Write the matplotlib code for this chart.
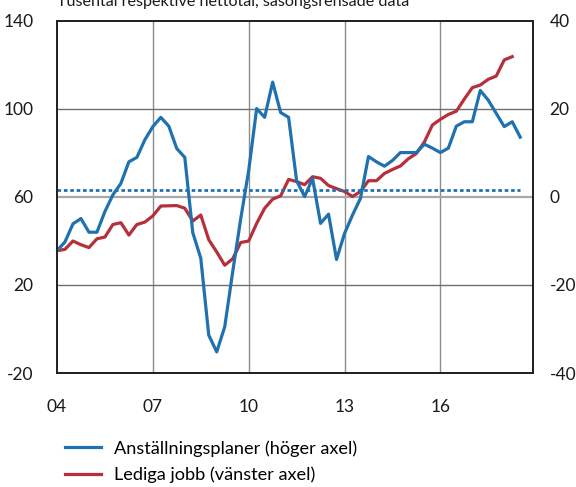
import numpy as np
import matplotlib
matplotlib.use("Agg")
import matplotlib.pyplot as plt

plt.rcParams['font.family'] = ['Lato', 'DejaVu Sans']
plt.rcParams['axes.unicode_minus'] = False

# Anställningsplaner, nettotal (right axis), quarterly 2004Q1-2018Q3
plans = [-12.2, -10.2, -6.1, -4.9,
         -8.0, -8.0, -3.3, 0.5,
         3.1, 8.0, 9.0, 13.0,
         16.0, 18.1, 16.1, 11.0,
         9.0, -8.1, -13.9, -31.4,
         -35.2, -29.5, -17.0, -5.0,
         6.0, 20.1, 18.1, 26.1,
         19.2, 18.1, 3.7, 0.1,
         4.2, -6.0, -3.9, -14.2,
         -8.3, -4.1, -0.3, 9.2,
         8.0, 7.0, 8.3, 10.1,
         10.1, 10.1, 12.0, 11.1,
         10.1, 11.1, 16.1, 17.1,
         17.1, 24.2, 22.0, 19.0,
         16.0, 17.1, 13.6]

# Lediga jobb, tusental (left axis), quarterly 2004Q1-2018Q2
vacancies = [35.6, 36.2, 40.0, 38.3,
             37.0, 41.0, 41.8, 47.5,
             48.3, 42.7, 47.5, 48.6,
             51.4, 55.9, 56.0, 56.1,
             54.9, 49.1, 51.8, 40.6,
             35.0, 29.0, 31.9, 39.3,
             40.0, 48.0, 54.9, 59.0,
             60.5, 68.0, 67.0, 65.6,
             69.2, 68.5, 65.2, 63.8,
             62.5, 60.2, 62.5, 67.4,
             67.4, 70.7, 72.5, 74.1,
             77.4, 79.8, 85.0, 92.7,
             95.3, 97.5, 99.0, 104.5,
             109.7, 110.9, 113.5, 115.0,
             122.3, 123.8]

plans_avg = 1.6  # average of hiring plans, right axis

x_ticks = [2004, 2007, 2010, 2013, 2016]
x_labels = ['04', '07', '10', '13', '16']
left_ticks = [-20, 20, 60, 100, 140]
right_ticks = [-40, -20, 0, 20, 40]

blue = '#1f71b0'
red = '#b5303a'

x_plans = 2004 + 0.25 * np.arange(len(plans))
x_vac = 2004 + 0.25 * np.arange(len(vacancies))

fig = plt.figure(figsize=(5.76, 4.87), dpi=100)
ax = fig.add_axes([57 / 576, 1 - 373 / 487, 476 / 576, 352 / 487])
ax2 = ax.twinx()

# grid
for xv in x_ticks[1:]:
    ax.axvline(xv, color='#8c8c8c', lw=1.0, zorder=0)
for yv in [20, 100]:
    ax.axhline(yv, color='#6e6e6e', lw=1.0, zorder=0)
ax.axhline(60, color='#a8a8a8', lw=1.6, zorder=0)

ax.plot(x_vac, vacancies, color=red, lw=2.3, solid_joinstyle='round')
ax2.plot(x_plans, plans, color=blue, lw=2.3, solid_joinstyle='round')
ax2.plot([x_plans[0], x_plans[-1]], [plans_avg, plans_avg], color=blue,
         lw=2.0, linestyle=(0, (1.3, 1.0)))

ax.set_xlim(2004, 2018.9)
ax.set_ylim(-20, 140)
ax2.set_ylim(-40, 40)
ax.set_xticks(x_ticks)
ax.set_xticklabels(x_labels)
ax.set_yticks(left_ticks)
ax2.set_yticks(right_ticks)
ax.tick_params(axis='both', length=0, labelsize=12.5, colors='#1a1a1a')
ax.tick_params(axis='y', pad=17)
ax.tick_params(axis='x', pad=19)
ax2.tick_params(axis='y', length=0, labelsize=12.5, colors='#1a1a1a', pad=12)

for a in (ax, ax2):
    for s in a.spines.values():
        s.set_color('#222222')
        s.set_linewidth(1.3)

fig.text(57 / 576, 1 - 6 / 487, 'Tusental respektive nettotal, säsongsrensade data',
         fontsize=11.6, va='baseline', ha='left', color='#1a1a1a')

h1, = ax.plot([], [], color=blue, lw=2.3)
h2, = ax.plot([], [], color=red, lw=2.3)
fig.legend([h1, h2], ['Anställningsplaner (höger axel)', 'Lediga jobb (vänster axel)'],
           loc='upper left', bbox_to_anchor=(58 / 576, 1 - 433 / 487),
           frameon=False, fontsize=13.1, handlelength=1.95, handletextpad=0.75,
           labelspacing=0.55, borderaxespad=0)

fig.savefig('out.png', dpi=100)
